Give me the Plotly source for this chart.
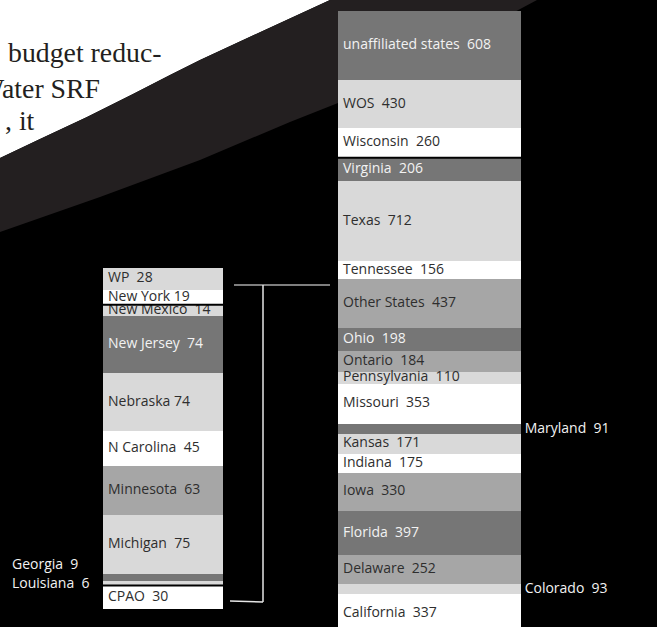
import numpy as np
import plotly.graph_objects as go

W, H = 657, 627

# ---------------- data ----------------
right_names = ["unaffiliated states", "WOS", "Wisconsin", "Virginia", "Texas", "Tennessee",
               "Other States", "Ohio", "Ontario", "Pennsylvania", "Missouri", "Maryland",
               "Kansas", "Indiana", "Iowa", "Florida", "Delaware", "Colorado", "California"]
right_values = [608, 430, 260, 206, 712, 156, 437, 198, 184, 110, 353, 91, 171, 175, 330,
                397, 252, 93, 337]
right_shades = ["dark", "light", "white", "dark", "light", "white", "mid", "dark", "mid",
                "light", "white", "dark", "light", "white", "mid", "dark", "mid", "light", "white"]

left_names = ["WP", "New York", "New Mexico", "New Jersey", "Nebraska", "N Carolina",
              "Minnesota", "Michigan", "Georgia", "Louisiana", "CPAO"]
left_values = [28, 19, 14, 74, 74, 45, 63, 75, 9, 6, 30]
left_shades = ["light", "white", "light", "dark", "light", "white", "mid", "light", "dark",
               "light", "white"]

right_outside = ["Maryland", "Colorado"]      # labelled to the right of the bar
left_outside = ["Georgia", "Louisiana"]        # labelled to the left of the bar
separated = ["Virginia", "New Mexico", "CPAO"]  # thin black rule above
single_gap = ["New York", "Nebraska"]

# ---------------- styles ----------------
COL = {"dark": "#767676", "mid": "#a6a6a6", "light": "#d9d9d9", "white": "#ffffff"}
TXT = {"dark": "#f2f2f2", "mid": "#2e2e2e", "light": "#2e2e2e", "white": "#2e2e2e"}
FONT = "Open Sans"

# bar pixel geometry (left/right edges, top, px per unit)
L_X0, L_X1, L_TOP, L_S = 103, 223, 268, 0.78
R_X0, R_X1, R_TOP, R_S = 338, 521, 11, 0.113
PAD = 5  # px text inset


def label(n, v):
    sep = " " if n in single_gap else "\u00a0 "
    return f"{n}{sep}{v}"


shapes = []


def bar_traces(names, values, shades, outside, xa, ya, out_side, width_px):
    vals = np.array(values, dtype=float)
    base = np.concatenate([[0], np.cumsum(vals)[:-1]])
    mid = base + vals / 2
    pad = PAD / width_px
    bar = go.Bar(
        x=[0] * len(vals), y=vals, base=base, width=1,
        marker=dict(color=[COL[s] for s in shades], line=dict(width=0)),
        xaxis=xa, yaxis=ya, hoverinfo="skip", showlegend=False,
    )
    inside = go.Scatter(
        x=[-0.5 + pad] * len(vals), y=mid, mode="text",
        text=["" if n in outside else label(n, v) for n, v in zip(names, values)],
        textposition="middle right",
        textfont=dict(family=FONT, size=14, color=[TXT[s] for s in shades]),
        xaxis=xa, yaxis=ya, hoverinfo="skip", showlegend=False, cliponaxis=False,
    )
    traces = [bar, inside]
    if out_side == "right":
        idx = [i for i, n in enumerate(names) if n in outside]
        traces.append(go.Scatter(
            x=[0.5] * len(idx), y=[mid[i] for i in idx], mode="text",
            text=["\u00a0" + label(names[i], values[i]) for i in idx],
            textposition="middle right",
            textfont=dict(family=FONT, size=14, color="#f2f2f2"),
            xaxis=xa, yaxis=ya, hoverinfo="skip", showlegend=False, cliponaxis=False,
        ))
    for i, n in enumerate(names):
        if n in separated:
            shapes.append(dict(type="line", xref=xa, yref=ya, x0=-0.5, x1=0.5,
                               y0=base[i], y1=base[i], line=dict(color="black", width=2)))
    return traces


fig = go.Figure()
for t in bar_traces(left_names, left_values, left_shades, left_outside, "x", "y", "left",
                    L_X1 - L_X0):
    fig.add_trace(t)
for t in bar_traces(right_names, right_values, right_shades, right_outside, "x2", "y2", "right",
                    R_X1 - R_X0):
    fig.add_trace(t)

axis_common = dict(visible=False, showgrid=False, zeroline=False, fixedrange=True)
fig.update_layout(
    width=W, height=H, autosize=False,
    margin=dict(l=0, r=0, t=0, b=0),
    paper_bgcolor="#000000", plot_bgcolor="rgba(0,0,0,0)",
    barmode="overlay", bargap=0,
    xaxis=dict(domain=[L_X0 / W, L_X1 / W], range=[-0.5, 0.5], anchor="y", **axis_common),
    yaxis=dict(domain=[0, 1], range=[(H - L_TOP) / L_S, -L_TOP / L_S], anchor="x", **axis_common),
    xaxis2=dict(domain=[R_X0 / W, R_X1 / W], range=[-0.5, 0.5], anchor="y2", **axis_common),
    yaxis2=dict(domain=[0, 1], range=[(H - R_TOP) / R_S, -R_TOP / R_S], anchor="x2", **axis_common),
)


def P(x, y):
    return f"{x / W:.5f},{1 - y / H:.5f}"


upper = [(0, 158), (40, 139), (87, 117), (133, 94), (170, 75), (200, 60), (267, 29), (330, 0)]
lower = [(0, 232), (100, 197), (200, 160), (290, 122), (338, 103), (440, 52), (537, 0)]

white_path = "M " + P(0, 0) + " L " + P(330, 0) + "".join(
    " L " + P(x, y) for x, y in reversed(upper)) + " Z"
band_path = "M " + P(330, 0) + " L " + P(537, 0) + "".join(
    " L " + P(x, y) for x, y in reversed(lower)) + "".join(
    " L " + P(x, y) for x, y in upper) + " Z"

shapes += [
    dict(type="path", path=white_path, xref="paper", yref="paper", layer="below",
         fillcolor="#ffffff", line=dict(width=0)),
    dict(type="path", path=band_path, xref="paper", yref="paper", layer="below",
         fillcolor="#231f20", line=dict(width=0)),
]
# bracket linking "Other States" to its breakdown
for (x0, y0, x1, y1, c) in [(234, 285, 330, 285, "#a8a8a8"),
                            (263, 285, 263, 602, "#e6e6e6"),
                            (230, 601, 263, 602, "#e6e6e6")]:
    shapes.append(dict(type="line", xref="paper", yref="paper",
                       x0=x0 / W, y0=1 - y0 / H, x1=x1 / W, y1=1 - y1 / H,
                       line=dict(color=c, width=1.5)))
fig.update_layout(shapes=shapes)

annotations = []
for txt, xr, yc in [("budget reduc-", 164, 53), ("Water SRF", 102, 88), (", it", 37, 121)]:
    annotations.append(dict(text=txt, xref="paper", yref="paper", x=xr / W, y=1 - yc / H,
                            xanchor="right", yanchor="middle", showarrow=False,
                            font=dict(family="Liberation Serif", size=27.8, color="#231f20")))
for n, yc in [("Georgia", 563), ("Louisiana", 582)]:
    v = left_values[left_names.index(n)]
    annotations.append(dict(text=label(n, v), xref="paper", yref="paper",
                            x=10 / W, y=1 - yc / H, xanchor="left", yanchor="middle",
                            showarrow=False, font=dict(family=FONT, size=14, color="#f2f2f2")))
fig.update_layout(annotations=annotations)

fig.write_html("out.html", config={"displayModeBar": False, "staticPlot": True},
               post_script="document.body.style.margin='0';document.body.style.overflow='hidden';")
